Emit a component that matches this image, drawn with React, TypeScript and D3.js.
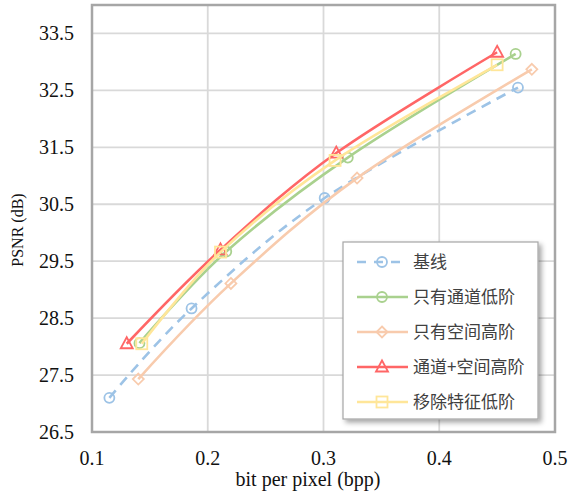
import React from 'react'
import * as d3 from 'd3'

// bpp / PSNR
const baselineX = [0.115, 0.186, 0.301, 0.468]
const baselineY = [27.1, 28.67, 30.61, 32.55]
const channelLowX = [0.141, 0.216, 0.321, 0.466]
const channelLowY = [28.06, 29.67, 31.32, 33.14]
const spatialHighX = [0.14, 0.22, 0.329, 0.48]
const spatialHighY = [27.43, 29.11, 30.96, 32.87]
const bothX = [0.13, 0.211, 0.311, 0.45]
const bothY = [28.05, 29.7, 31.4, 33.17]
const removeLowX = [0.143, 0.211, 0.31, 0.45]
const removeLowY = [28.05, 29.66, 31.27, 32.95]

const xTicks = [0.1, 0.2, 0.3, 0.4, 0.5]
const yTicks = [26.5, 27.5, 28.5, 29.5, 30.5, 31.5, 32.5, 33.5]

const series = [
    { name: '基线', xs: baselineX, ys: baselineY, color: '#9dc3e6', marker: 'circle', dash: '10,7' },
    { name: '只有通道低阶', xs: channelLowX, ys: channelLowY, color: '#a9d18e', marker: 'circle', dash: null },
    { name: '只有空间高阶', xs: spatialHighX, ys: spatialHighY, color: '#f8cbad', marker: 'diamond', dash: null },
    { name: '通道+空间高阶', xs: bothX, ys: bothY, color: '#ff6666', marker: 'triangle', dash: null },
    { name: '移除特征低阶', xs: removeLowX, ys: removeLowY, color: '#ffe699', marker: 'square', dash: null },
]

const W = 569, H = 495
const left = 92, right = 555, top = 5, bottom = 432
const serif = { fontFamily: '"Liberation Serif", "DejaVu Serif", "Times New Roman", serif' }

function Marker({ type, x, y, color }) {
    const sw = 1.8
    if (type === 'circle') return <circle cx={x} cy={y} r={5} fill="none" stroke={color} strokeWidth={sw} />
    if (type === 'square') return <rect x={x - 5.5} y={y - 5.5} width={11} height={11} fill="none" stroke={color} strokeWidth={sw} />
    if (type === 'diamond') return <path d={`M${x},${y - 5.5}L${x + 5.5},${y}L${x},${y + 5.5}L${x - 5.5},${y}Z`} fill="none" stroke={color} strokeWidth={sw} />
    return <path d={`M${x},${y - 6.5}L${x + 6},${y + 4.5}L${x - 6},${y + 4.5}Z`} fill="none" stroke={color} strokeWidth={sw} />
}

export default function App() {
    const x = d3.scaleLinear().domain([0.1, 0.5]).range([left, right])
    const y = d3.scaleLinear().domain([26.5, 34]).range([bottom, top])

    const line = d3.line<[number, number]>()
        .x(d => x(d[0]))
        .y(d => y(d[1]))
        .curve(d3.curveCardinal.tension(0))

    const legX = 343, legY = 242, legW = 195, legH = 177
    const rowY = i => 262 + i * 35

    return (
        <svg width={W} height={H} style={{ position: 'absolute', left: 0, top: 0 }}>
            <defs>
                <filter id="shadow" x="-10%" y="-10%" width="130%" height="130%">
                    <feDropShadow dx="3" dy="3" stdDeviation="2.5" floodColor="#000" floodOpacity="0.35" />
                </filter>
            </defs>
            <rect width={W} height={H} fill="#fff" />

            {/* grid */}
            {xTicks.slice(1, -1).map(t => (
                <line key={'gx' + t} x1={x(t)} x2={x(t)} y1={top} y2={bottom} stroke="#d9d9d9" strokeWidth={1.8} />
            ))}
            {yTicks.slice(1).map(t => (
                <line key={'gy' + t} x1={left} x2={right} y1={y(t)} y2={y(t)} stroke="#d9d9d9" strokeWidth={1.8} />
            ))}
            <rect x={left} y={top} width={right - left} height={bottom - top} fill="none" stroke="#a6a6a6" strokeWidth={2.5} />

            {/* tick labels */}
            {yTicks.map(t => (
                <text key={'ty' + t} x={74} y={y(t)} dy="0.33em" textAnchor="end"
                    style={serif} fontSize={20} fill="#111">{t.toFixed(1)}</text>
            ))}
            {xTicks.map(t => (
                <text key={'tx' + t} x={x(t)} y={465} textAnchor="middle"
                    style={serif} fontSize={20} fill="#111">{t.toFixed(1)}</text>
            ))}
            <text x={308} y={486} textAnchor="middle" style={serif}
                fontSize={20} fill="#111">bit per pixel (bpp)</text>
            <text transform="translate(23,230) rotate(-90)" textAnchor="middle" style={serif}
                fontSize={16} fill="#111">PSNR (dB)</text>

            {/* series */}
            {series.map(s => {
                const pts = s.xs.map((v, i) => [v, s.ys[i]] as [number, number])
                return (
                    <g key={s.name}>
                        <path d={line(pts)} fill="none" stroke={s.color} strokeWidth={2.6}
                            strokeDasharray={s.dash || undefined} />
                        {pts.map((p, i) => <Marker key={i} type={s.marker} x={x(p[0])} y={y(p[1])} color={s.color} />)}
                    </g>
                )
            })}

            {/* legend */}
            <rect x={legX} y={legY} width={legW} height={legH} fill="#fff" stroke="#a6a6a6" strokeWidth={1.2} filter="url(#shadow)" />
            {series.map((s, i) => (
                <g key={'lg' + s.name}>
                    <line x1={357} x2={408} y1={rowY(i)} y2={rowY(i)} stroke={s.color} strokeWidth={2.6}
                        strokeDasharray={s.dash ? '9,8' : undefined} />
                    <Marker type={s.marker} x={382} y={rowY(i)} color={s.color} />
                    <text x={413} y={rowY(i)} dy="0.35em" style={{ fontFamily: '"Noto Sans CJK SC", sans-serif' }}
                        fontSize={17} fill="#404040">{s.name}</text>
                </g>
            ))}
        </svg>
    )
}
